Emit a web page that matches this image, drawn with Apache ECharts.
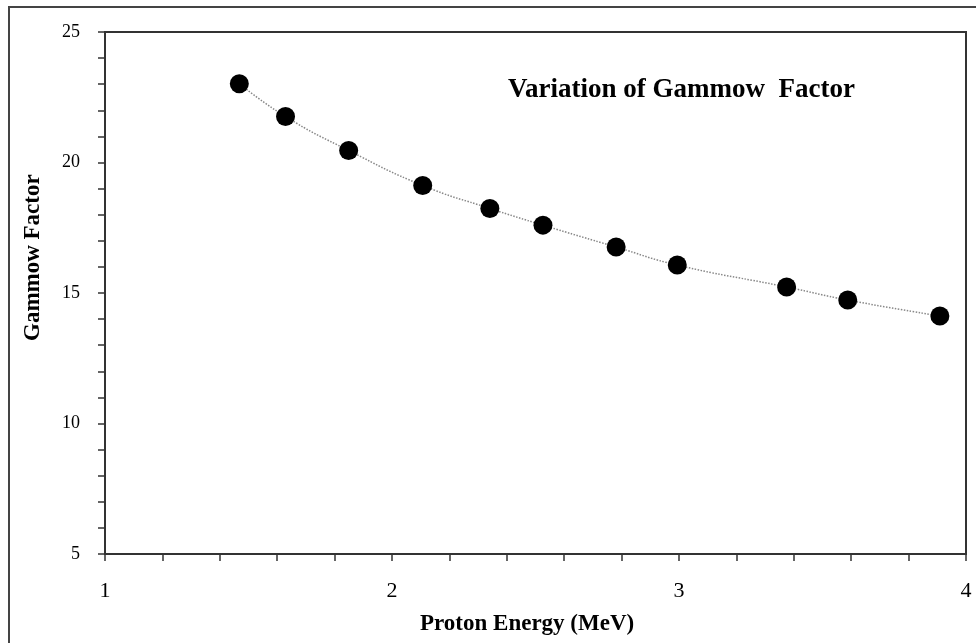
<!DOCTYPE html>
<html lang="en">
<head>
    <meta charset="utf-8">
    <script src="https://cdn.jsdelivr.net/npm/echarts@6/dist/echarts.min.js"></script>
    <style>
        html, body {
            margin: 0px;
            padding: 0px;
            width: 100%;
            height: 100%;
            background: #fff;
        }

        #chart {
            width: 976px;
            height: 643px;
        }
    </style>
</head>
<body>
<div id="chart"></div>
<script type="text/javascript">
    // proton energy (MeV) and gammow factor
    var energy = [1.468, 1.629, 1.849, 2.107, 2.341, 2.526, 2.781, 2.994, 3.375, 3.588, 3.909];
    var gammow = [23.02, 21.76, 20.46, 19.12, 18.24, 17.60, 16.76, 16.07, 15.23, 14.73, 14.12];

    var titleText = 'Variation of Gammow  Factor';
    var xName = 'Proton Energy (MeV)';
    var yName = 'Gammow Factor';

    var points = [];
    for (var i in energy) {
        points.push([energy[i], gammow[i]]);
    }

    var serif = '"Liberation Serif", "DejaVu Serif", serif';
    var myChart = echarts.init(document.getElementById('chart'));

    var option = {
        animation: false,
        backgroundColor: '#fff',
        grid: {
            left: 105,
            top: 32,
            right: 10,
            bottom: 89,
            show: true,
            borderColor: '#333',
            borderWidth: 2
        },
        graphic: [
            {
                type: 'rect',
                shape: {x: 9, y: 7, width: 980, height: 660},
                style: {fill: 'none', stroke: '#444', lineWidth: 2},
                silent: true
            },
            {
                type: 'text',
                left: 508,
                top: 77,
                style: {text: titleText, font: 'bold 27px ' + serif, fill: '#000'}
            },
            {
                type: 'text',
                x: 420,
                y: 613,
                style: {text: xName, font: 'bold 23px ' + serif, fill: '#000'}
            },
            {
                type: 'text',
                x: 22,
                y: 341,
                rotation: Math.PI / 2,
                style: {text: yName, font: 'bold 23px ' + serif, fill: '#000'}
            }
        ],
        xAxis: {
            type: 'value',
            min: 1,
            max: 4,
            interval: 1,
            splitLine: {show: false},
            axisLine: {lineStyle: {color: '#333', width: 2}},
            axisTick: {length: 7, lineStyle: {color: '#333', width: 1.5}},
            minorTick: {show: true, splitNumber: 5, length: 7, lineStyle: {color: '#333', width: 1.5}},
            axisLabel: {margin: 26, color: '#000', fontSize: 22, fontFamily: serif}
        },
        yAxis: {
            type: 'value',
            min: 5,
            max: 25,
            interval: 5,
            splitLine: {show: false},
            axisLine: {show: true, lineStyle: {color: '#333', width: 2}},
            axisTick: {show: true, length: 7, lineStyle: {color: '#333', width: 1.5}},
            minorTick: {show: true, splitNumber: 5, length: 7, lineStyle: {color: '#333', width: 1.5}},
            axisLabel: {margin: 25, color: '#000', fontSize: 18, fontFamily: serif}
        },
        series: [
            {
                name: 'fit',
                type: 'line',
                data: points,
                smooth: true,
                showSymbol: false,
                silent: true,
                lineStyle: {color: '#888', width: 1.5, type: 'dotted'},
                z: 1
            },
            {
                name: yName,
                type: 'scatter',
                data: points,
                symbolSize: 19,
                itemStyle: {color: '#000', opacity: 1},
                z: 2
            }
        ]
    };

    myChart.setOption(option, true);
</script>
</body>
</html>
